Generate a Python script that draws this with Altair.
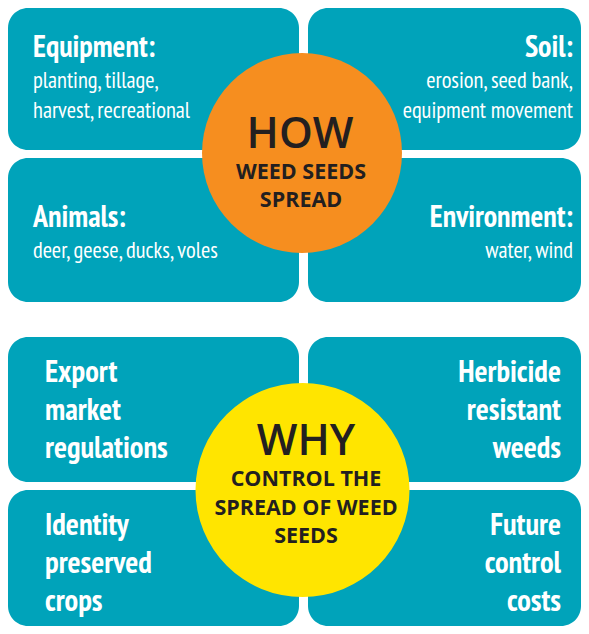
import altair as alt
import pandas as pd

# ---- content ----
how_titles = ["Equipment:", "Soil:", "Animals:", "Environment:"]
how_details = [["planting, tillage,", "harvest, recreational"],
               ["erosion, seed bank,", "equipment movement"],
               ["deer, geese, ducks, voles"],
               ["water, wind"]]
why_reasons = [["Export", "market", "regulations"],
               ["Herbicide", "resistant", "weeds"],
               ["Identity", "preserved", "crops"],
               ["Future", "control", "costs"]]
how_center = ["HOW", "WEED SEEDS", "SPREAD"]
why_center = ["WHY", "CONTROL THE", "SPREAD OF WEED", "SEEDS"]

# ---- layout (page pixels) ----
W, H = 573, 618
cols = [(8, 299), (308, 581)]
how_rows = [(8, 150), (158, 302)]
why_rows = [(337, 482), (490, 626)]
TEAL = "#00A3BA"
ORANGE = "#F68E1F"
YELLOW = "#FFE500"
DARK = "#231F20"
NARROW = "'PT Sans Narrow', 'Roboto Condensed', sans-serif"
ROUND = "'Open Sans', 'Noto Sans', sans-serif"

boxes = []
for rows in (how_rows, why_rows):
    for (y1, y2) in rows:
        for (x1, x2) in cols:
            boxes.append(dict(x=x1, x2=x2, y=y1, y2=y2))
boxes = pd.DataFrame(boxes)

circles = pd.DataFrame([dict(x=302, y=153, size=200 ** 2, c=ORANGE),
                        dict(x=302.5, y=490, size=214 ** 2, c=YELLOW)])

# text rows
how_title_rows, how_detail_rows, why_rows_txt = [], [], []
for i, t in enumerate(how_titles):
    r, c = divmod(i, 2)
    base = 57 + r * 170
    x = 33 if c == 0 else 573
    al = "left" if c == 0 else "right"
    how_title_rows.append(dict(x=x, y=base, t=t, al=al))
    for j, d in enumerate(how_details[i]):
        how_detail_rows.append(dict(x=x, y=base + 31 + j * 30, t=d, al=al))
for i, lines in enumerate(why_reasons):
    r, c = divmod(i, 2)
    base = 382 + r * 153
    x = 45 if c == 0 else 561
    al = "left" if c == 0 else "right"
    for j, d in enumerate(lines):
        why_rows_txt.append(dict(x=x, y=base + j * 38, t=d, al=al))

center_big = pd.DataFrame([dict(x=300, y=148, t=how_center[0]),
                           dict(x=306, y=455, t=why_center[0])])
center_small = pd.DataFrame(
    [dict(x=301, y=178.5 + j * 28, t=s) for j, s in enumerate(how_center[1:])] +
    [dict(x=306, y=486 + j * 28.5, t=s) for j, s in enumerate(why_center[1:])])

xs = alt.Scale(domain=[8, 8 + W], nice=False, zero=False)
ys = alt.Scale(domain=[8 + H, 8], nice=False, zero=False)
X = lambda f="x": alt.X(f, type="quantitative", scale=xs, axis=None)
Y = lambda f="y": alt.Y(f, type="quantitative", scale=ys, axis=None)

rects = alt.Chart(boxes).mark_rect(cornerRadius=20, color=TEAL).encode(
    x=X("x"), x2="x2", y=Y("y"), y2="y2")

dots = alt.Chart(circles).mark_circle(opacity=1).encode(
    x=X(), y=Y(), size=alt.Size("size:Q", scale=None, legend=None),
    color=alt.Color("c:N", scale=None, legend=None))


def text_layer(df, align, **kw):
    return alt.Chart(pd.DataFrame(df)).mark_text(
        align=align, baseline="alphabetic", **kw).encode(x=X(), y=Y(), text="t:N")


layers = [rects, dots]
for al in ("left", "right"):
    layers.append(text_layer([r for r in how_title_rows if r["al"] == al], al,
                             font=NARROW, fontSize=30, fontWeight="bold", color="white"))
    layers.append(text_layer([r for r in how_detail_rows if r["al"] == al], al,
                             font=NARROW, fontSize=22.5, color="white"))
    layers.append(text_layer([r for r in why_rows_txt if r["al"] == al], al,
                             font=NARROW, fontSize=30.5, fontWeight="bold", color="white"))
layers.append(text_layer(center_big, "center", font=ROUND, fontSize=43,
                         fontWeight=600, color=DARK))
layers.append(text_layer(center_small, "center", font=ROUND, fontSize=21.5,
                         fontWeight="bold", color=DARK))

chart = alt.layer(*layers).properties(
    width=W, height=H, padding=0, autosize="none"
).configure_view(strokeWidth=0)

chart.save("out.html", embed_options={"renderer": "svg", "actions": False})
